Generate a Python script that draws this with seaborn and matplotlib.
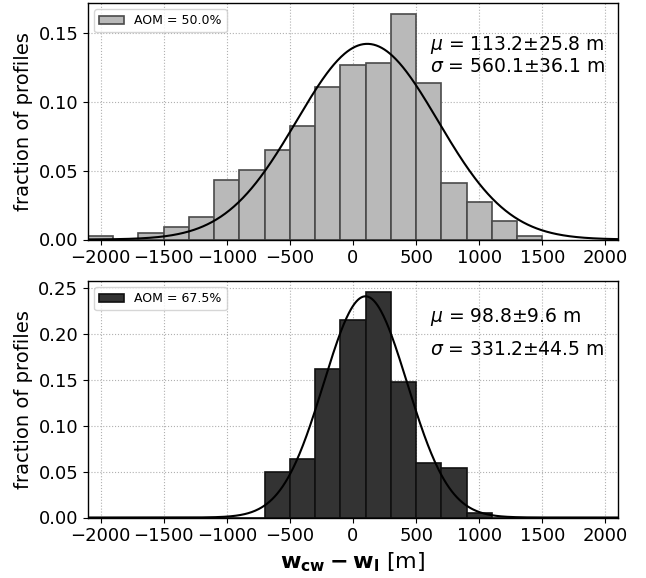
import numpy as np
import pandas as pd
import matplotlib
matplotlib.use("Agg")
import matplotlib.pyplot as plt
import seaborn as sns

# ---- data ----
bin_edges = [-2100, -1900, -1700, -1500, -1300, -1100, -900, -700, -500, -300,
             -100, 100, 300, 500, 700, 900, 1100, 1300, 1500]
bin_centers = [-2000, -1800, -1600, -1400, -1200, -1000, -800, -600, -400, -200,
               0, 200, 400, 600, 800, 1000, 1200, 1400]
frac_aom50 = [0.0027, 0.0, 0.0044, 0.0088, 0.0163, 0.0430, 0.0503, 0.0654, 0.0826,
              0.1108, 0.1274, 0.1288, 0.1640, 0.1138, 0.0413, 0.0272, 0.0134, 0.0027]
frac_aom675 = [0.0, 0.0, 0.0, 0.0, 0.0, 0.0, 0.0, 0.0493, 0.0638,
               0.1620, 0.2156, 0.2453, 0.1475, 0.0594, 0.0543, 0.0054, 0.0, 0.0]
labels = ["AOM = 50.0%", "AOM = 67.5%"]
mu_vals = [113.2, 98.8]
mu_err = [25.8, 9.6]
sigma_vals = [560.1, 331.2]
sigma_err = [36.1, 44.5]
xticks = [-2000, -1500, -1000, -500, 0, 500, 1000, 1500, 2000]
yticks_top = [0.00, 0.05, 0.10, 0.15]
yticks_bot = [0.00, 0.05, 0.10, 0.15, 0.20, 0.25]

face_colors = ["#b9b9b9", "#333333"]
edge_colors = ["#4a4a4a", "#111111"]
text_y = [(0.824, 0.732), (0.848, 0.710)]

fig = plt.figure(figsize=(6.46, 5.78), dpi=100)
ax1 = fig.add_axes([88/646, 1 - 239.5/578, 530/646, 236.5/578])
ax2 = fig.add_axes([88/646, 1 - 517.5/578, 530/646, 236.5/578])

bin_width = 200
xs = np.linspace(-2100, 2100, 600)

for ax, fr, lab, mu, me, sg, se, fc, ec, yt, ty in zip(
        [ax1, ax2], [frac_aom50, frac_aom675], labels, mu_vals, mu_err,
        sigma_vals, sigma_err, face_colors, edge_colors,
        [yticks_top, yticks_bot], text_y):
    df = pd.DataFrame({"x": bin_centers, "w": fr})
    sns.histplot(data=df, x="x", weights="w", bins=bin_edges, ax=ax,
                 color=fc, edgecolor=ec, linewidth=1.2, alpha=1.0, label=lab)
    gauss = bin_width * np.exp(-0.5 * ((xs - mu) / sg) ** 2) / (sg * np.sqrt(2 * np.pi))
    sns.lineplot(x=xs, y=gauss, ax=ax, color="black", linewidth=1.5)
    ax.set_xlim(-2100, 2100)
    ax.set_ylim(0, max(fr) * 1.05)
    ax.set_xticks(xticks)
    ax.set_yticks(yt)
    ax.set_yticklabels([f"{v:.2f}" for v in yt])
    ax.grid(True, linestyle=":", color="#b0b0b0", linewidth=0.8)
    ax.set_axisbelow(True)
    ax.tick_params(labelsize=13)
    ax.set_ylabel("fraction of profiles", fontsize=14)
    ax.set_xlabel("")
    ax.text(0.645, ty[0], rf"$\mu$ = {mu:.1f}$\pm${me:.1f} m", transform=ax.transAxes,
            fontsize=13.5, va="center", ha="left")
    ax.text(0.645, ty[1], rf"$\sigma$ = {sg:.1f}$\pm${se:.1f} m", transform=ax.transAxes,
            fontsize=13.5, va="center", ha="left")
    handles, hl = ax.get_legend_handles_labels()
    ax.legend(handles=[h for h, l in zip(handles, hl) if l == lab], labels=[lab],
              loc="upper left", fontsize=9)
    for s in ax.spines.values():
        s.set_linewidth(1.0)

ax2.set_xlabel(r"$\mathbf{w_{cw} - w_l}$ [m]", fontsize=16)

fig.savefig("out.png", dpi=100)
